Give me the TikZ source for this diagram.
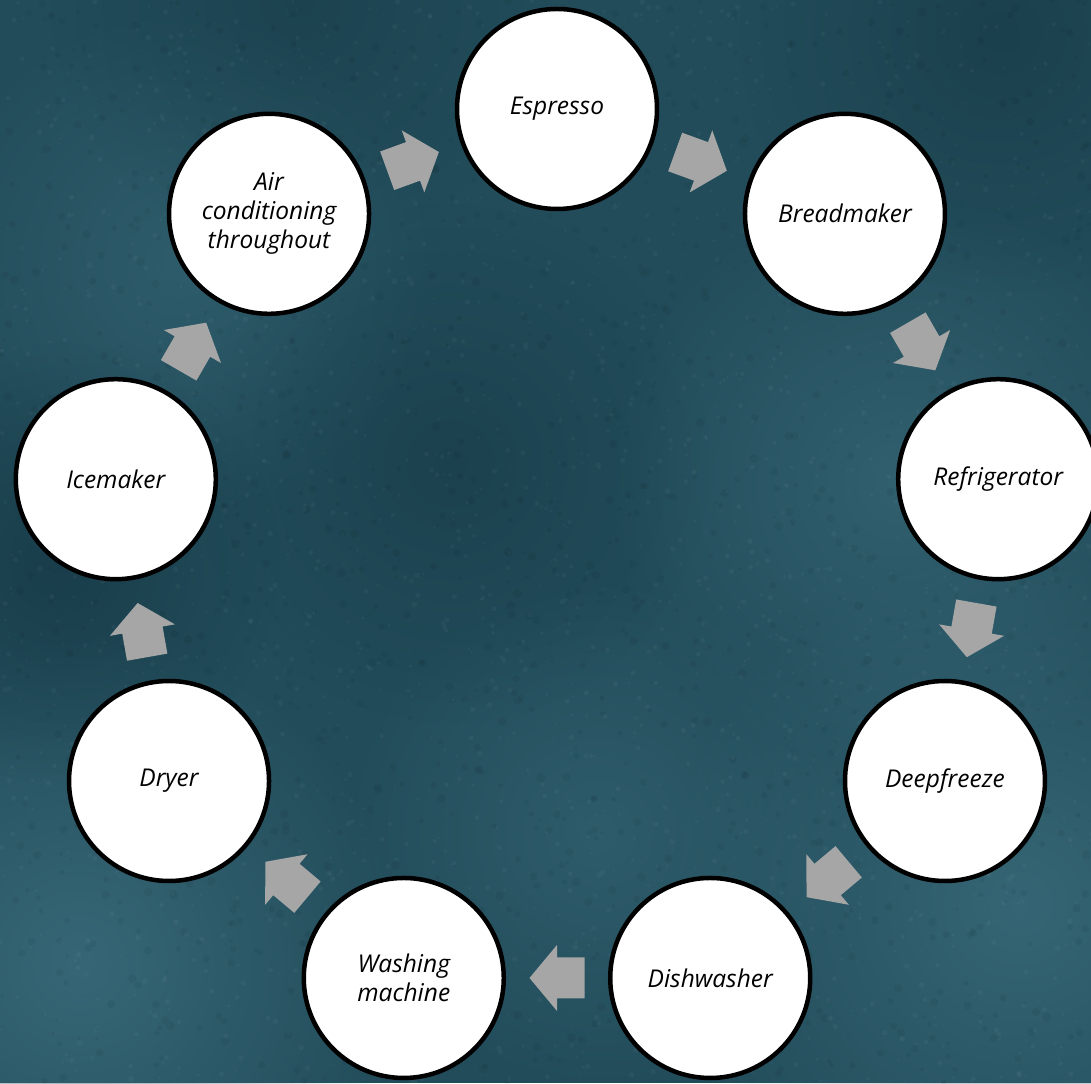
\documentclass[tikz,border=0pt]{standalone}
\usepackage{fontspec}
\setmainfont{Open Sans}
\usetikzlibrary{calc,fadings}
\definecolor{bgbase}{RGB}{34,76,90}
\definecolor{bglight}{RGB}{62,112,128}
\definecolor{bgdark}{RGB}{20,52,64}
\definecolor{arrowgray}{RGB}{166,166,166}
\tikzfading[name=softspot, inner color=transparent!0, outer color=transparent!100]
\begin{document}
\begin{tikzpicture}[x=1pt,y=1pt,
  stage/.style={circle, draw=black, line width=4.5pt, fill=white, minimum size=200pt,
    inner sep=0pt, align=center, text=black,
    font=\fontsize{24.5}{29}\selectfont\itshape},
  spot/.style={path fading=softspot},
  pics/blockarrow/.style={code={
    \fill[arrowgray] (-27.5,-20.5) -- (0,-20.5) -- (0,-33) -- (27.5,0) -- (0,33) -- (0,20.5) -- (-27.5,20.5) -- cycle;}}]
% background
\fill[bgbase] (0,0) rectangle (1091,1083);
\useasboundingbox (0,0) rectangle (1091,1083);
\begin{scope}
\clip (0,0) rectangle (1091,1083);
\fill[bglight, opacity=0.75, spot] (80,120) circle (330);
\fill[bglight, opacity=0.7, spot] (1020,180) circle (360);
\fill[bglight, opacity=0.55, spot] (900,600) circle (300);
\fill[bglight, opacity=0.45, spot] (180,820) circle (260);
\fill[bglight, opacity=0.45, spot] (600,250) circle (260);
\fill[bgdark, opacity=0.6, spot] (60,520) circle (220);
\fill[bgdark, opacity=0.5, spot] (1000,1050) circle (260);
\fill[bgdark, opacity=0.45, spot] (450,620) circle (260);
\fill[bgdark, opacity=0.4, spot] (300,1083) circle (250);
\pgfmathsetseed{7}
\foreach \i in {1,...,2200}{
  \pgfmathsetmacro\xx{rnd*1091}
  \pgfmathsetmacro\yy{rnd*1083}
  \pgfmathsetmacro\rr{0.8+rnd*2}
  \fill[white, opacity=0.035] (\xx,\yy) circle (\rr);
}
\foreach \i in {1,...,1400}{
  \pgfmathsetmacro\xx{rnd*1091}
  \pgfmathsetmacro\yy{rnd*1083}
  \pgfmathsetmacro\rr{1.5+rnd*3}
  \fill[black, opacity=0.05] (\xx,\yy) circle (\rr);
}
\end{scope}
% nodes
\coordinate (c) at (557,526);
\node[stage] (esp)   at ($(c)+(90:448)$)  {Espresso};
\node[stage] (bread) at ($(c)+(50:448)$)  {Breadmaker};
\node[stage] (fridge) at ($(c)+(10:448)$) {Refrigerator};
\node[stage] (freeze) at ($(c)+(-30:448)$) {Deepfreeze};
\node[stage] (dish)  at ($(c)+(-70:448)$) {Dishwasher};
\node[stage] (wash)  at ($(c)+(-110:448)$) {Washing\\machine};
\node[stage] (dryer) at ($(c)+(-150:448)$) {Dryer};
\node[stage] (ice)   at ($(c)+(170:448)$) {Icemaker};
\node[stage] (air)   at ($(c)+(130:448)$) {Air\\conditioning\\throughout};
% arrows
\pic[rotate=-20]  at ($(esp)!0.5!(bread)$)   {blockarrow};
\pic[rotate=-60]  at ($(bread)!0.5!(fridge)$) {blockarrow};
\pic[rotate=-100] at ($(fridge)!0.5!(freeze)$) {blockarrow};
\pic[rotate=-140] at ($(freeze)!0.5!(dish)$) {blockarrow};
\pic[rotate=180]  at ($(dish)!0.5!(wash)$)   {blockarrow};
\pic[rotate=140]  at ($(wash)!0.5!(dryer)$)  {blockarrow};
\pic[rotate=100]  at ($(dryer)!0.5!(ice)$)   {blockarrow};
\pic[rotate=60]   at ($(ice)!0.5!(air)$)     {blockarrow};
\pic[rotate=20]   at ($(air)!0.5!(esp)$)     {blockarrow};
\end{tikzpicture}
\end{document}
